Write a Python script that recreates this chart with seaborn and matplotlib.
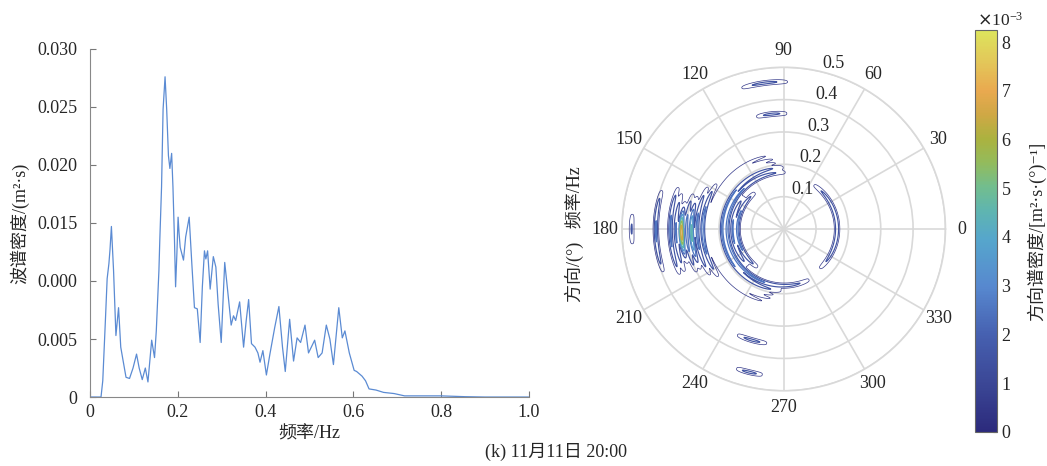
import numpy as np
import pandas as pd
import matplotlib
matplotlib.use("Agg")
import matplotlib.pyplot as plt
import seaborn as sns
from matplotlib.colors import LinearSegmentedColormap, Normalize
from matplotlib.cm import ScalarMappable
from matplotlib.ticker import ScalarFormatter

# ---------------- 1-D wave spectrum ----------------
freq_hz = [0.0, 0.025, 0.029, 0.035, 0.039, 0.043, 0.0455, 0.0487, 0.0536, 0.059,
           0.065, 0.070, 0.0755, 0.082, 0.090, 0.098, 0.106, 0.112, 0.119, 0.126,
           0.132, 0.1405, 0.147, 0.151, 0.157, 0.159, 0.163, 0.1665, 0.171, 0.1747,
           0.1787, 0.182, 0.186, 0.189, 0.1925, 0.195, 0.198, 0.2007, 0.203, 0.2055,
           0.213, 0.218, 0.226, 0.232, 0.238, 0.2445, 0.251, 0.256, 0.2608, 0.264,
           0.268, 0.2738, 0.281, 0.2868, 0.292, 0.299, 0.307, 0.3128, 0.3217, 0.327,
           0.332, 0.341, 0.350, 0.356, 0.3615, 0.368, 0.376, 0.3826, 0.3875, 0.394,
           0.402, 0.410, 0.421, 0.4305, 0.4387, 0.445, 0.455, 0.4639, 0.472, 0.480,
           0.490, 0.498, 0.512, 0.520, 0.529, 0.5386, 0.5467, 0.5548, 0.567, 0.575,
           0.581, 0.591, 0.602, 0.6077, 0.620, 0.628, 0.636, 0.652, 0.669, 0.693,
           0.717, 0.800, 0.855, 0.900, 1.0]
spec_m2s = [0.0, 0.0, 0.0014, 0.0066, 0.0102, 0.0115, 0.0127, 0.0147, 0.0109, 0.0053,
            0.0077, 0.0043, 0.0031, 0.0017, 0.0016, 0.0025, 0.0037, 0.0025, 0.0015, 0.0025,
            0.0013, 0.0049, 0.0034, 0.0057, 0.0109, 0.0135, 0.0181, 0.0248, 0.0276, 0.0248,
            0.0208, 0.0197, 0.0210, 0.0181, 0.0135, 0.0095, 0.0124, 0.0155, 0.0141, 0.0129,
            0.0118, 0.0138, 0.0155, 0.0115, 0.0077, 0.0076, 0.0047, 0.0095, 0.0126, 0.0119,
            0.0126, 0.0093, 0.0121, 0.0112, 0.0080, 0.0047, 0.0116, 0.0095, 0.0062, 0.0070,
            0.0066, 0.0082, 0.0043, 0.0066, 0.0084, 0.0046, 0.0043, 0.0038, 0.0030, 0.0040,
            0.0019, 0.0037, 0.0060, 0.0078, 0.0043, 0.0022, 0.0067, 0.0031, 0.0051, 0.0047,
            0.0062, 0.0038, 0.0049, 0.0034, 0.0038, 0.0062, 0.0050, 0.0028, 0.0077, 0.0051,
            0.0057, 0.0038, 0.0023, 0.0022, 0.0018, 0.0014, 0.0007, 0.0006, 0.0004, 0.0003,
            0.0001, 0.0001, 0.00003, 0.0, 0.0]

x_ticks = [0.0, 0.2, 0.4, 0.6, 0.8, 1.0]
x_tick_labels = ["0", "0.2", "0.4", "0.6", "0.8", "1.0"]
y_ticks = [0.0, 0.005, 0.010, 0.015, 0.020, 0.025, 0.030]
y_tick_labels = ["0", "0.005", "0.000", "0.015", "0.020", "0.025", "0.030"]

# ---------------- directional spectrum ridges ----------------
# each ridge: frequency (Hz), peak density (1e-3 m^2 s / deg), direction span (deg)
ridge_freq = [0.143, 0.158, 0.175, 0.190, 0.205, 0.218, 0.232,
              0.250, 0.268, 0.285, 0.300, 0.316, 0.333, 0.350, 0.395, 0.470,
              0.357, 0.357, 0.455, 0.455, 0.165]
ridge_peak = [2.8, 2.6, 2.9, 2.7, 1.1, 1.1, 1.0,
              3.0, 2.8, 4.8, 2.9, 7.3, 2.6, 2.7, 2.6, 1.6,
              1.8, 1.8, 1.8, 1.8, 2.4]
ridge_dir_start = [128, 140, 88, 90, 90, 92, 95,
                   145, 150, 155, 158, 158, 160, 158, 162, 174,
                   88, 246, 88, 251, 312]
ridge_dir_end = [236, 226, 297, 268, 268, 266, 262,
                 217, 213, 210, 207, 206, 204, 204, 200, 186,
                 104, 262, 107, 262, 56]
ridge_shape = [0.4, 0.4, 0.35, 0.35, 0.4, 0.4, 0.4,
               0.6, 0.6, 1.6, 0.6, 3.0, 0.6, 0.5, 0.5, 0.5,
               0.5, 0.5, 0.5, 0.5, 0.4]

contour_levels = [0.5e-3, 1.5e-3, 2.5e-3, 3.5e-3, 4.5e-3, 5.5e-3, 6.5e-3, 7.5e-3]
contour_widths = [0.5, 0.85, 0.9, 0.9, 0.9, 0.9, 0.9, 0.9]
cbar_ticks = [0, 1e-3, 2e-3, 3e-3, 4e-3, 5e-3, 6e-3, 7e-3, 8e-3]
angle_ticks = list(range(0, 360, 30))
radius_ticks = [0.1, 0.2, 0.3, 0.4, 0.5]

# ---------------- style ----------------
sns.set_theme(style="white")
plt.rcParams["font.family"] = ["Liberation Serif", "Noto Sans CJK SC", "DejaVu Serif"]
plt.rcParams["font.size"] = 13
FS = 13

cmap = LinearSegmentedColormap.from_list(
    "soft_parula",
    [(0.00, "#2c2a7c"), (0.12, "#3b4796"), (0.24, "#4660b0"), (0.36, "#5788cf"),
     (0.48, "#56a6cc"), (0.55, "#5fb5b0"), (0.61, "#72bd8e"), (0.67, "#93bb5c"),
     (0.73, "#abb23f"), (0.79, "#cfa845"), (0.85, "#e9a94f"), (0.92, "#e3c659"),
     (1.00, "#dde45c")])
vmax = 8.25e-3
norm = Normalize(0, vmax)

fig = plt.figure(figsize=(10.47, 4.66), dpi=100)

# ---------------- left: line spectrum ----------------
ax = fig.add_axes([0.086, 0.148, 0.419, 0.747])
df = pd.DataFrame({"f": freq_hz, "S": spec_m2s})
sns.lineplot(data=df, x="f", y="S", ax=ax, color="#5b8bd3", linewidth=0.9)
ax.set_xlim(0, 1.0)
ax.set_ylim(0, 0.030)
ax.set_xticks(x_ticks)
ax.set_xticklabels(x_tick_labels)
ax.set_yticks(y_ticks)
ax.set_yticklabels(y_tick_labels)
ax.tick_params(direction="in", length=4, width=0.8, color="#777777",
               labelsize=FS, bottom=True, left=True)
ax.tick_params(axis="y", pad=9)
ax.tick_params(axis="x", pad=5)
for side in ["top", "right"]:
    ax.spines[side].set_visible(False)
for side in ["left", "bottom"]:
    ax.spines[side].set_color("#888888")
    ax.spines[side].set_linewidth(0.8)
ax.set_xlabel("频率/Hz", fontsize=FS, labelpad=3)
ax.set_ylabel("波谱密度/(m²·s)", fontsize=FS, labelpad=6)

# ---------------- right: polar directional spectrum ----------------
theta_deg = np.linspace(0, 360, 721)
radius = np.linspace(0, 0.5, 501)
TH, RR = np.meshgrid(theta_deg, radius)
field = np.zeros_like(TH)
for fk, pk, d0, d1, sh in zip(ridge_freq, ridge_peak, ridge_dir_start,
                              ridge_dir_end, ridge_shape):
    span = (d1 - d0) % 360
    t = ((TH - d0) % 360) / span
    inside = t <= 1
    ang = np.where(inside, np.sin(np.pi * np.clip(t, 0, 1)) ** sh, 0.0)
    rad = np.exp(-((RR - fk) / 0.0068) ** 2)
    field += pk * 1e-3 * ang * rad

pax = fig.add_axes([0.594, 0.161, 0.309, 0.695], projection="polar")
pax.contour(np.deg2rad(TH), RR, field, levels=contour_levels, cmap=cmap,
            norm=norm, linewidths=contour_widths)
pax.set_ylim(0, 0.5)
pax.set_yticks(radius_ticks)
pax.set_yticklabels([f"{r:.1f}" for r in radius_ticks], fontsize=FS)
pax.set_rlabel_position(76)
pax.set_xticks(np.deg2rad(angle_ticks))
pax.set_xticklabels([str(a) for a in angle_ticks], fontsize=FS)
pax.tick_params(axis="x", pad=-1)
pax.grid(True, color="#d9d9d9", linewidth=1.2)
pax.spines["polar"].set_color("#d9d9d9")
pax.spines["polar"].set_linewidth(1.2)
pax.set_axisbelow(True)
for lbl in pax.get_yticklabels():
    lbl.set_horizontalalignment("left")
    lbl.set_verticalalignment("bottom")

fig.text(0.549, 0.497, "方向/(°)   频率/Hz", rotation=90, ha="center",
         va="center", fontsize=FS)

# ---------------- colorbar ----------------
cax = fig.add_axes([0.931, 0.073, 0.021, 0.863])
sm = ScalarMappable(norm=norm, cmap=cmap)
cb = fig.colorbar(sm, cax=cax)
cb.set_ticks(cbar_ticks)
fmt = ScalarFormatter(useMathText=True)
fmt.set_powerlimits((-3, -3))
cb.formatter = fmt
cb.update_ticks()
cb.ax.tick_params(direction="in", length=3, width=0.8, color="#555555",
                  labelsize=FS, pad=3)
cb.outline.set_edgecolor("#666666")
cb.outline.set_linewidth(0.8)
offset = cb.ax.yaxis.get_offset_text()
offset.set_fontsize(12.5)
offset.set_horizontalalignment("left")
offset.set_x(0.1)
cb.set_label("方向谱密度/[m²·s·(°)⁻¹]", fontsize=FS, labelpad=11)

fig.text(0.531, 0.030, "(k) 11月11日 20:00", ha="center", va="center",
         fontsize=FS)

fig.savefig("out.png", dpi=100)
